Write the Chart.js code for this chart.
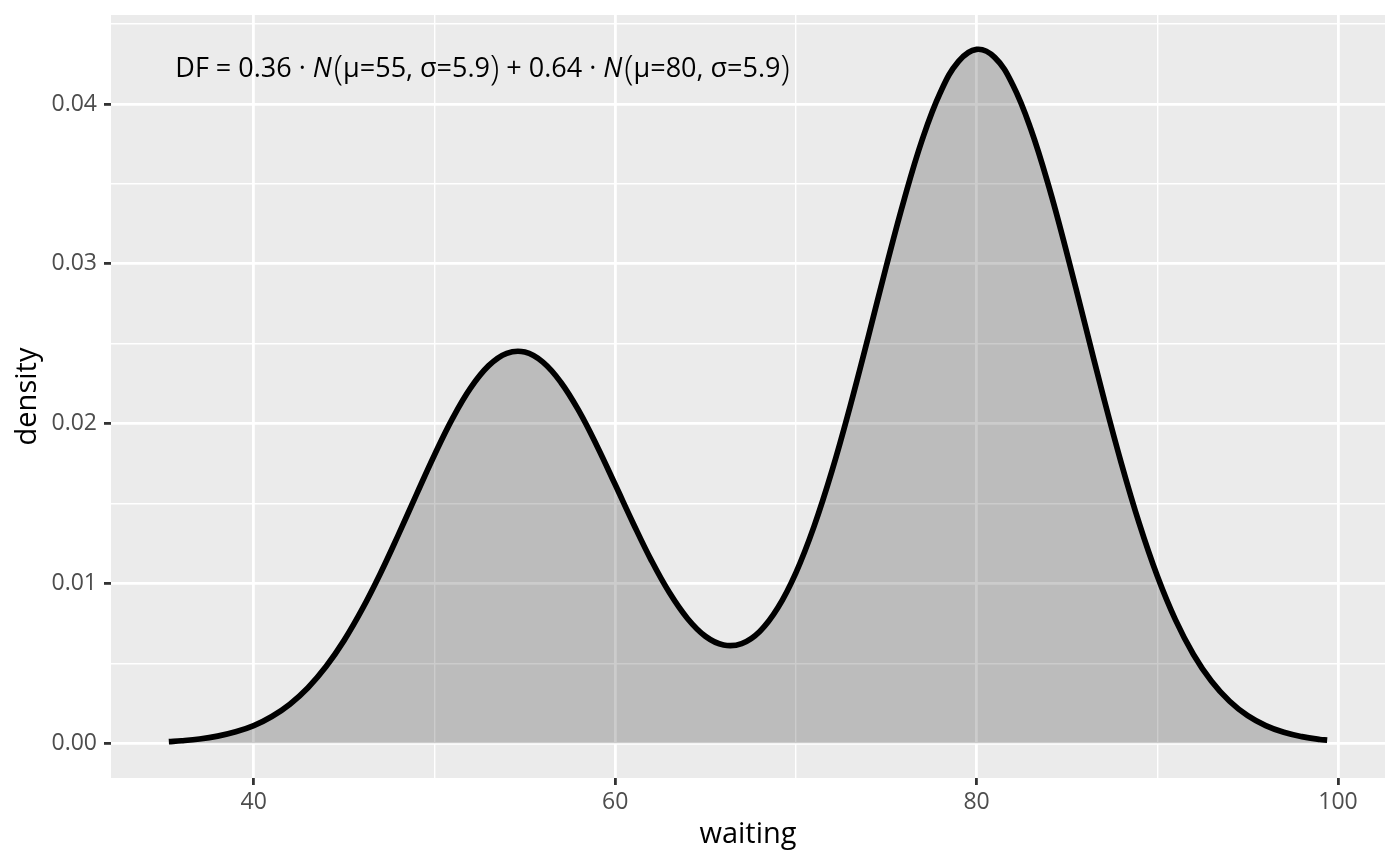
<!DOCTYPE html>
<html>
<head>
<meta charset="utf-8">
<script src="https://cdn.jsdelivr.net/npm/chart.js@4/dist/chart.umd.min.js"></script>
<style>
  html, body { margin: 0; padding: 0; background: #ffffff; }
  #wrap { width: 1400px; height: 866px; position: relative; }
</style>
</head>
<body>
<div id="wrap"><canvas id="c"></canvas></div>
<script>
// ---- data ----
const waiting = [35.3, 36, 37, 38, 39, 40, 41, 42, 43, 44, 45, 46, 47, 48, 49, 50,
  51, 52, 53, 54, 55, 56, 57, 58, 59, 60, 61, 62, 63, 64, 65, 66, 67, 68, 69, 70,
  71, 72, 73, 74, 75, 76, 77, 78, 79, 80, 81, 82, 83, 84, 85, 86, 87, 88, 89, 90,
  91, 92, 93, 94, 95, 96, 97, 98, 99, 99.4];
const density = [0.00011, 0.00016, 0.00027, 0.00045, 0.00072, 0.00111, 0.00168, 0.00245,
  0.00348, 0.00480, 0.00644, 0.00839, 0.01061, 0.01304, 0.01556, 0.01804,
  0.02033, 0.02224, 0.02363, 0.02440, 0.02448, 0.02385, 0.02258, 0.02078, 0.01859, 0.01619,
  0.01376, 0.01145, 0.00943, 0.00781, 0.00669, 0.00615, 0.00624, 0.00700, 0.00848, 0.01067,
  0.01356, 0.01706, 0.02108, 0.02541, 0.02984, 0.03406, 0.03780, 0.04074, 0.04267, 0.04342,
  0.04292, 0.04121, 0.03844, 0.03483, 0.03065, 0.02621, 0.02176, 0.01756, 0.01376, 0.01047,
  0.00774, 0.00556, 0.00388, 0.00263, 0.00173, 0.00111, 0.00069, 0.00042, 0.00024, 0.00020];

const xMajor = [40, 60, 80, 100];
const xMinor = [50, 70, 90];
const yMajor = [0, 0.01, 0.02, 0.03, 0.04];
const yMinor = [0.005, 0.015, 0.025, 0.035, 0.045];
const yLabels = ['0.00', '0.01', '0.02', '0.03', '0.04'];
const xLabels = ['40', '60', '80', '100'];

const xTitle = 'waiting';
const yTitle = 'density';
const annotationX = 35.66;
const annotationY = 0.04169;
// annotation pieces: [text, style]  (n = normal, i = italic, p = big parenthesis)
const annotationParts = [
  ['DF = 0.36 \u00B7 ', 'n'], ['N', 'i'], ['(', 'p'], ['\u03BC=55, \u03C3=5.9', 'n'], [')', 'p'],
  [' + 0.64 \u00B7 ', 'n'], ['N', 'i'], ['(', 'p'], ['\u03BC=80, \u03C3=5.9', 'n'], [')', 'p']
];

const FONT = '"Open Sans", "Noto Sans", sans-serif';
const near = (arr, v) => arr.some(a => Math.abs(a - v) < 1e-9);

const panelBg = {
  id: 'panelBg',
  beforeDraw(chart) {
    const { ctx, chartArea: a } = chart;
    ctx.save();
    ctx.fillStyle = '#EBEBEB';
    ctx.fillRect(a.left, a.top, a.right - a.left, a.bottom - a.top);
    ctx.restore();
  }
};

const annot = {
  id: 'annot',
  afterDatasetsDraw(chart) {
    const { ctx } = chart;
    const x0 = chart.scales.x.getPixelForValue(annotationX);
    const y0 = chart.scales.y.getPixelForValue(annotationY);
    ctx.save();
    ctx.fillStyle = '#000000';
    ctx.textBaseline = 'alphabetic';
    ctx.textAlign = 'left';
    let x = x0;
    for (const [t, s] of annotationParts) {
      let dy = 0;
      if (s === 'i') ctx.font = 'italic 27px ' + FONT;
      else if (s === 'p') { ctx.font = '300 34px ' + FONT; dy = 3; }
      else ctx.font = '27px ' + FONT;
      ctx.fillText(t, x, y0 + dy);
      x += ctx.measureText(t).width + (s === 'i' ? 2 : 0);
    }
    ctx.restore();
  }
};

const tickSetter = (majors, minors) => (scale) => {
  scale.ticks = majors.concat(minors).sort((a, b) => a - b).map(v => ({ value: v }));
};

new Chart(document.getElementById('c'), {
  type: 'line',
  data: {
    datasets: [{
      data: waiting.map((w, i) => ({ x: w, y: density[i] })),
      borderColor: '#000000',
      borderWidth: 5.7,
      backgroundColor: 'rgba(0,0,0,0.2)',
      fill: 'origin',
      pointRadius: 0,
      tension: 0.4
    }]
  },
  options: {
    responsive: true,
    maintainAspectRatio: false,
    animation: false,
    layout: { padding: { top: 15, right: 15, left: 0, bottom: 0 } },
    plugins: { legend: { display: false }, tooltip: { enabled: false } },
    scales: {
      x: {
        type: 'linear',
        min: 32.1,
        max: 102.6,
        afterBuildTicks: tickSetter(xMajor, xMinor),
        afterFit(scale) { scale.height = 88; scale.paddingLeft = 0; scale.paddingRight = 0; },
        border: { display: false },
        grid: {
          color: '#FFFFFF',
          lineWidth: (c) => near(xMajor, c.tick.value) ? 2.8 : 1.4,
          tickColor: (c) => near(xMajor, c.tick.value) ? '#333333' : 'rgba(0,0,0,0)',
          tickWidth: 2.8,
          tickLength: 7,
          drawTicks: true
        },
        ticks: {
          autoSkip: false,
          maxRotation: 0,
          padding: 4,
          color: '#4D4D4D',
          font: { family: FONT, size: 23 },
          callback: (v) => { const i = xMajor.findIndex(a => Math.abs(a - v) < 1e-9); return i >= 0 ? xLabels[i] : ''; }
        },
        title: {
          display: true,
          text: xTitle,
          color: '#000000',
          font: { family: FONT, size: 29 },
          padding: { top: 0, bottom: 14 }
        }
      },
      y: {
        type: 'linear',
        min: -0.00217,
        max: 0.04557,
        afterBuildTicks: tickSetter(yMajor, yMinor),
        afterFit(scale) { scale.width = 111; scale.paddingTop = 0; scale.paddingBottom = 0; },
        border: { display: false },
        grid: {
          color: '#FFFFFF',
          lineWidth: (c) => near(yMajor, c.tick.value) ? 2.8 : 1.4,
          tickColor: (c) => near(yMajor, c.tick.value) ? '#333333' : 'rgba(0,0,0,0)',
          tickWidth: 2.8,
          tickLength: 7,
          drawTicks: true
        },
        ticks: {
          autoSkip: false,
          padding: 7,
          color: '#4D4D4D',
          font: { family: FONT, size: 23 },
          callback: (v) => { const i = yMajor.findIndex(a => Math.abs(a - v) < 1e-9); return i >= 0 ? yLabels[i] : ''; }
        },
        title: {
          display: true,
          text: yTitle,
          color: '#000000',
          font: { family: FONT, size: 29 },
          padding: { top: 10, bottom: 8 }
        }
      }
    }
  },
  plugins: [panelBg, annot]
});
</script>
</body>
</html>
